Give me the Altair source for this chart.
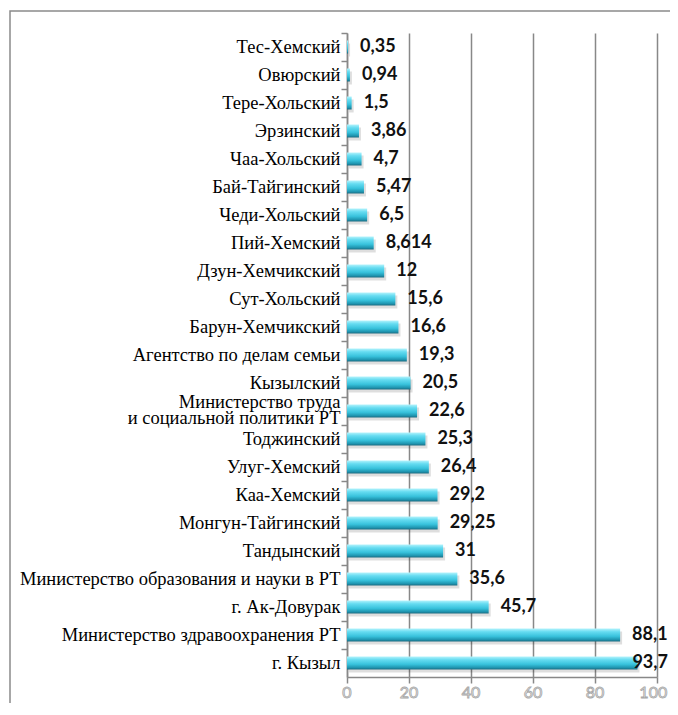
import altair as alt
import pandas as pd

categories = [
    "Тес-Хемский", "Овюрский", "Тере-Хольский", "Эрзинский", "Чаа-Хольский",
    "Бай-Тайгинский", "Чеди-Хольский", "Пий-Хемский", "Дзун-Хемчикский",
    "Сут-Хольский", "Барун-Хемчикский", "Агентство по делам семьи", "Кызылский",
    "Министерство труда\nи социальной политики РТ", "Тоджинский", "Улуг-Хемский",
    "Каа-Хемский", "Монгун-Тайгинский", "Тандынский",
    "Министерство образования и науки в РТ", "г. Ак-Довурак",
    "Министерство здравоохранения РТ", "г. Кызыл",
]
values = [0.35, 0.94, 1.5, 3.86, 4.7, 5.47, 6.5, 8.614, 12, 15.6, 16.6, 19.3, 20.5,
          22.6, 25.3, 26.4, 29.2, 29.25, 31, 35.6, 45.7, 88.1, 93.7]
tick_values = [0, 20, 40, 60, 80, 100]

df = pd.DataFrame({"cat": categories, "v": values})
ticks_df = pd.DataFrame({"t": tick_values})

W, H = 310, 644

xscale = alt.Scale(domain=[0, 100], nice=False, zero=True)
yscale = alt.Scale(domain=categories, paddingInner=0, paddingOuter=0)

base = alt.Chart(df)

x_axis = alt.Axis(
    values=tick_values, grid=True, gridColor="#888888", gridWidth=1.5,
    labels=False, tickSize=6, tickColor="#888888", tickWidth=1.5,
    domainColor="#888888", domainWidth=1.5,
)
y_axis = alt.Axis(
    bandPosition=0, tickSize=6, tickColor="#888888", tickWidth=1.5,
    domainColor="#888888", domainWidth=1.5,
    labelFont="Liberation Serif", labelFontSize=18.5, labelColor="#000000",
    labelPadding=1, labelLimit=400, labelLineHeight=16,
    labelExpr="split(datum.label, '\\n')", grid=False,
    labelOffset={"condition": {"test": "indexof(datum.value, '\\n') >= 0", "value": -9}, "value": 0},
)

shadow = base.mark_bar(size=13, color="#000000", opacity=0.13, yOffset=3, xOffset=2).encode(
    x=alt.X("v:Q", scale=xscale, title=None, axis=x_axis),
    y=alt.Y("cat:N", sort=categories, scale=yscale, title=None, axis=y_axis),
)

grad = alt.LinearGradient(
    gradient="linear", x1=0, y1=0, x2=0, y2=1,
    stops=[
        alt.GradientStop(offset=0, color="#b4f3fc"),
        alt.GradientStop(offset=0.25, color="#66dcf1"),
        alt.GradientStop(offset=0.6, color="#38c2dc"),
        alt.GradientStop(offset=0.85, color="#2096b1"),
        alt.GradientStop(offset=1, color="#1a6c82"),
    ],
)

bars = base.mark_bar(size=13, color=grad).encode(
    x=alt.X("v:Q", scale=xscale),
    y=alt.Y("cat:N", sort=categories, scale=yscale),
)

labels = base.mark_text(
    align="left", baseline="middle", dx=12, font="Lato", fontSize=18,
    fontWeight="bold", color="#111111",
).transform_calculate(
    lab="replace(toString(datum.v), '.', ',')",
    lx="min(datum.v, 88.2)",
).encode(
    x=alt.X("lx:Q", scale=xscale),
    y=alt.Y("cat:N", sort=categories, scale=yscale),
    text="lab:N",
)

xlabels = alt.Chart(ticks_df).mark_text(
    align="center", baseline="middle", font="Lato", fontSize=16,
    fill="#ffffff", stroke="#a8a8a8", strokeWidth=0.9,
).transform_calculate(
    tx="min(datum.t, 98.8)"
).encode(
    x=alt.X("tx:Q", scale=xscale),
    y=alt.value(H + 16),
    text=alt.Text("t:Q"),
)

frame = alt.Chart(alt.Data(values=[{"a": 1}])).mark_rect(
    fill=None, stroke="#8a8a8a", strokeWidth=1.5,
).encode(
    x=alt.value(-337), x2=alt.value(W + 60),
    y=alt.value(-22), y2=alt.value(H + 80),
)

chart = alt.layer(shadow, bars, labels, xlabels, frame).properties(
    width=W, height=H,
    autosize=alt.AutoSizeParams(type="none"),
    padding={"left": 339, "top": 25, "right": 13, "bottom": 26},
    background="#ffffff",
).configure_view(stroke=None)

chart.save("out.html", embed_options={"renderer": "svg", "actions": False})
